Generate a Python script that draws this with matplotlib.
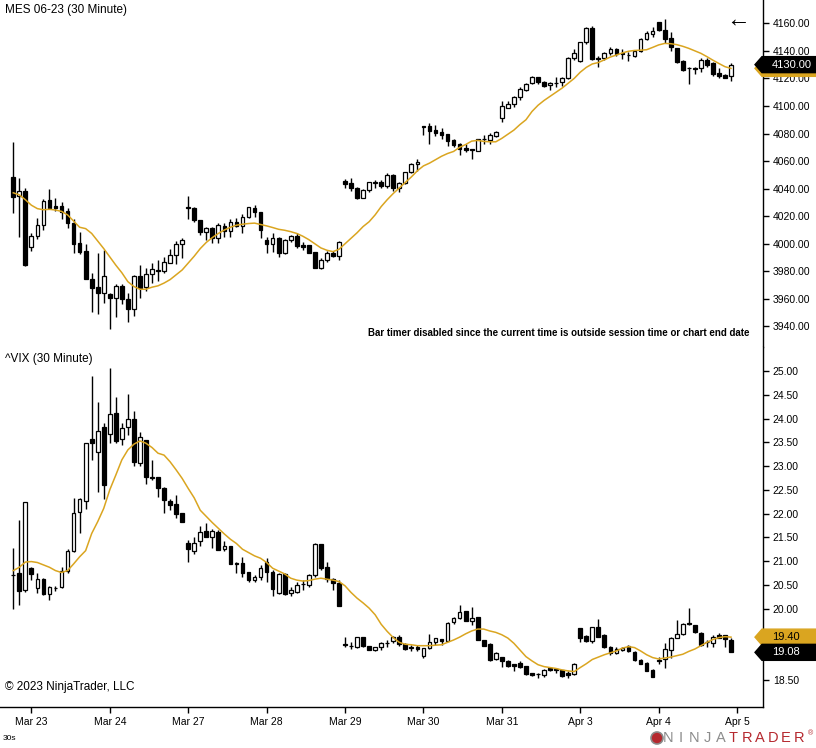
"""MES 06-23 and ^VIX 30 minute candles, drawn in the NinjaTrader look."""
from __future__ import annotations

import numpy as np
import matplotlib

matplotlib.use("Agg")
import matplotlib.pyplot as plt
from matplotlib.patches import Ellipse, Polygon

plt.rcParams["font.family"] = ["Liberation Sans", "DejaVu Sans"]

GOLD = "#DAA520"
FIG_W, FIG_H = 816, 748
PLOT_RIGHT = 763  # pixel column of the price axis line
TAG_HALF_PX = 8.0

DAY_LABELS = ["Mar 23", "Mar 24", "Mar 27", "Mar 28", "Mar 29",
              "Mar 30", "Mar 31", "Apr 3", "Apr 4", "Apr 5"]
BARS_PER_DAY = 13
FIRST_DAY_BAR = 3

MES_OPEN = [
    4048.2, 4034.4, 4038.3, 3997.4, 4005.4, 4013.4, 4031.7, 4027.2, 4027.2, 4023.8,
    4015.1, 4000.3, 3994.7, 3974.2, 3968.4, 3964.0, 3963.8, 3960.4, 3969.3, 3959.7,
    3952.4, 3976.6, 3968.4, 3977.8, 3981.0, 3980.6, 3986.3, 3991.6, 4000.2, 4026.4,
    4025.7, 4017.3, 4008.8, 4011.2, 4004.4, 4013.2, 4009.5, 4015.8, 4013.2, 4019.2,
    4025.7, 4022.8, 4002.8, 3999.6, 4004.0, 3993.1, 4002.8, 4005.7, 3999.1, 3999.1,
    3993.8, 3982.7, 3988.2, 3993.6, 3991.4, 4045.6, 4043.9, 4040.5, 4033.5, 4039.0,
    4044.4, 4044.8, 4042.2, 4049.9, 4040.7, 4044.1, 4051.8, 4057.6, 4085.2, 4085.2,
    4082.6, 4081.1, 4079.4, 4075.3, 4072.2, 4069.5, 4068.5, 4067.6, 4075.8, 4075.3,
    4078.5, 4091.0, 4098.8, 4101.2, 4106.8, 4111.8, 4116.4, 4121.3, 4117.4, 4115.0,
    4116.9, 4117.2, 4120.0, 4134.6, 4132.6, 4146.2, 4156.3, 4134.6, 4134.6, 4138.2,
    4141.1, 4138.2, 4137.0, 4136.5, 4140.1, 4148.4, 4152.2, 4160.7, 4155.1, 4149.1,
    4141.8, 4132.9, 4127.3, 4127.3, 4127.3, 4133.4, 4130.9, 4123.7, 4122.5, 4121.7,
]
MES_HIGH = [
    4073.8, 4047.5, 4040.2, 4007.6, 4018.4, 4032.7, 4039.7, 4033.0, 4030.3, 4026.2,
    4018.2, 4008.5, 3999.8, 3979.0, 3993.5, 3995.5, 3964.5, 3970.5, 3970.5, 3964.0,
    3977.3, 3984.6, 3982.4, 3985.8, 3988.2, 3990.6, 3996.0, 4002.2, 4003.9, 4034.6,
    4026.4, 4017.5, 4012.4, 4012.4, 4014.9, 4014.9, 4017.8, 4018.5, 4021.6, 4026.9,
    4028.2, 4023.3, 4005.2, 4007.6, 4004.7, 4003.2, 4006.4, 4007.6, 4001.6, 3999.1,
    3994.3, 3989.4, 3994.8, 3994.8, 4002.0, 4047.3, 4047.5, 4041.2, 4039.5, 4045.1,
    4046.3, 4046.3, 4051.1, 4050.4, 4045.1, 4052.3, 4058.4, 4061.5, 4085.4, 4087.9,
    4086.0, 4083.8, 4079.7, 4075.8, 4072.9, 4072.2, 4068.8, 4076.0, 4079.0, 4080.4,
    4081.8, 4103.6, 4103.6, 4107.2, 4114.0, 4116.4, 4121.8, 4121.3, 4118.1, 4117.4,
    4121.3, 4121.3, 4135.3, 4141.1, 4146.7, 4157.6, 4158.0, 4136.3, 4139.2, 4142.8,
    4141.8, 4141.1, 4139.4, 4140.6, 4149.1, 4154.7, 4157.6, 4161.2, 4163.1, 4153.9,
    4142.3, 4133.4, 4128.5, 4128.5, 4134.6, 4134.6, 4132.2, 4127.3, 4123.2, 4130.9,
]
MES_LOW = [
    4022.6, 4004.6, 3984.1, 3995.0, 4003.7, 4010.2, 4025.0, 4024.0, 4018.2, 4011.7,
    3993.5, 3992.6, 3974.2, 3950.7, 3948.8, 3957.2, 3937.9, 3946.6, 3956.0, 3943.5,
    3947.8, 3960.9, 3966.0, 3971.8, 3973.2, 3979.0, 3985.8, 3985.3, 3989.4, 4018.0,
    4016.0, 4006.4, 4002.8, 4000.3, 4000.8, 4004.7, 4005.2, 4012.4, 4007.6, 4018.5,
    4019.2, 4004.0, 3993.6, 3994.3, 3990.2, 3992.6, 4001.6, 3996.7, 3995.5, 3993.1,
    3982.2, 3981.5, 3987.0, 3990.7, 3988.2, 4040.2, 4038.3, 4032.3, 4033.0, 4037.8,
    4040.2, 4040.2, 4040.2, 4038.3, 4037.8, 4043.4, 4051.1, 4053.1, 4078.9, 4072.2,
    4078.2, 4076.3, 4071.0, 4070.0, 4064.7, 4066.8, 4061.8, 4067.3, 4072.4, 4072.4,
    4077.2, 4088.6, 4098.3, 4099.5, 4104.6, 4110.9, 4116.0, 4115.7, 4114.0, 4111.6,
    4114.0, 4114.5, 4119.6, 4133.4, 4132.2, 4145.2, 4133.4, 4128.0, 4133.4, 4137.0,
    4136.3, 4133.9, 4132.9, 4135.8, 4139.4, 4147.9, 4149.8, 4154.7, 4145.5, 4140.1,
    4131.0, 4125.6, 4116.0, 4123.2, 4124.9, 4128.5, 4122.0, 4120.5, 4120.0, 4118.1,
]
MES_CLOSE = [
    4034.2, 4038.3, 3984.8, 4005.4, 4013.4, 4031.0, 4026.0, 4026.2, 4023.3, 4014.8,
    3999.6, 3994.2, 3974.2, 3968.1, 3964.0, 3976.4, 3960.4, 3969.1, 3959.7, 3952.4,
    3976.6, 3968.1, 3977.8, 3981.5, 3980.6, 3986.8, 3991.8, 3999.6, 4002.7, 4025.7,
    4017.3, 4008.8, 4011.2, 4004.4, 4013.6, 4009.5, 4015.8, 4013.2, 4019.2, 4026.4,
    4022.8, 4010.0, 3999.9, 4004.0, 3993.1, 4002.8, 4005.7, 3998.6, 3997.9, 3993.6,
    3982.7, 3988.2, 3993.6, 3991.1, 4001.6, 4043.6, 4040.2, 4033.5, 4039.0, 4044.6,
    4044.6, 4042.2, 4049.9, 4040.7, 4044.1, 4051.8, 4057.6, 4059.3, 4085.0, 4082.1,
    4080.6, 4079.2, 4074.8, 4071.9, 4068.5, 4068.3, 4068.1, 4075.8, 4075.9, 4078.7,
    4081.1, 4099.7, 4101.2, 4106.5, 4112.1, 4115.7, 4121.3, 4117.2, 4114.7, 4116.7,
    4117.0, 4120.1, 4134.6, 4138.7, 4146.2, 4156.3, 4134.1, 4134.4, 4138.7, 4141.1,
    4137.5, 4137.5, 4137.1, 4140.1, 4148.4, 4153.2, 4154.2, 4155.1, 4148.9, 4143.0,
    4132.2, 4126.1, 4127.4, 4127.0, 4133.4, 4129.7, 4123.0, 4121.7, 4120.5, 4130.0,
]
MES_MA = [
    4037.0, 4035.5, 4032.0, 4028.0, 4025.5, 4024.7, 4025.0, 4024.5, 4023.5, 4021.0,
    4016.5, 4012.0, 4011.0, 4007.5, 4002.0, 3996.5, 3990.5, 3984.5, 3979.0, 3972.5,
    3969.0, 3967.0, 3967.0, 3968.5, 3969.5, 3971.5, 3974.0, 3977.5, 3981.0, 3986.0,
    3991.0, 3996.5, 4001.0, 4004.5, 4007.5, 4010.0, 4012.0, 4013.5, 4014.2, 4014.7,
    4015.0, 4014.0, 4013.0, 4011.8, 4010.5, 4009.8, 4008.8, 4007.5, 4005.5, 4003.0,
    4000.0, 3997.0, 3995.3, 3994.3, 3996.0, 4000.0, 4004.0, 4008.0, 4012.5, 4016.0,
    4021.0, 4027.0, 4032.0, 4036.5, 4040.5, 4044.5, 4048.5, 4053.0, 4056.5, 4058.5,
    4061.0, 4063.5, 4065.5, 4067.0, 4070.0, 4072.0, 4074.5, 4075.0, 4074.3, 4074.0,
    4074.0, 4076.5, 4079.5, 4082.5, 4086.5, 4090.0, 4096.0, 4100.5, 4104.0, 4107.0,
    4110.0, 4113.0, 4116.5, 4120.0, 4124.5, 4128.0, 4130.5, 4131.5, 4133.5, 4135.5,
    4137.0, 4138.5, 4139.7, 4140.3, 4140.5, 4140.8, 4142.5, 4144.3, 4145.4, 4145.2,
    4144.5, 4143.3, 4141.8, 4140.0, 4138.2, 4135.8, 4133.2, 4130.8, 4128.5, 4127.3,
]

VIX_OPEN = [
    20.71, 20.76, 20.39, 20.85, 20.43, 20.62, 20.30, 20.44, 20.45, 20.80,
    21.22, 22.03, 22.27, 23.56, 23.30, 23.82, 23.67, 24.11, 23.56, 23.82,
    24.00, 23.06, 23.55, 22.78, 22.76, 22.53, 22.27, 22.20, 22.01, 21.39,
    21.22, 21.43, 21.63, 21.50, 21.61, 21.25, 21.32, 20.97, 20.97, 20.77,
    20.60, 20.66, 20.98, 20.77, 20.32, 20.73, 20.32, 20.36, 20.51, 20.50,
    20.70, 21.36, 20.87, 20.63, 20.53, 19.25, 19.22, 19.20, 19.40, 19.22,
    19.13, 19.19, 19.27, 19.31, 19.40, 19.25, 19.20, 19.20, 19.01, 19.17,
    19.29, 19.36, 19.32, 19.71, 19.80, 19.94, 19.75, 19.82, 19.34, 19.26,
    18.94, 18.98, 18.90, 18.84, 18.85, 18.80, 18.64, 18.62, 18.61, 18.75,
    18.73, 18.71, 18.64, 18.63, 19.59, 19.43, 19.32, 19.62, 19.45, 19.20,
    19.06, 19.13, 19.22, 19.08, 18.92, 18.85, 18.71, 18.91, 18.94, 19.13,
    19.39, 19.46, 19.69, 19.66, 19.48, 19.29, 19.27, 19.45, 19.45, 19.33,
]
VIX_HIGH = [
    21.27, 21.87, 22.24, 20.88, 20.74, 20.64, 20.48, 20.48, 20.88, 21.25,
    22.32, 22.32, 23.49, 24.89, 24.35, 23.90, 25.06, 24.46, 23.90, 24.52,
    24.16, 23.72, 23.55, 23.13, 22.78, 22.55, 22.30, 22.39, 22.01, 21.44,
    21.50, 21.73, 21.80, 21.67, 21.66, 21.42, 21.32, 20.99, 21.09, 20.78,
    20.70, 20.92, 21.06, 20.81, 20.74, 20.74, 20.45, 20.57, 20.60, 20.73,
    21.39, 21.36, 20.99, 20.64, 20.60, 19.40, 19.29, 19.41, 19.40, 19.22,
    19.20, 19.29, 19.33, 19.43, 19.45, 19.27, 19.24, 19.24, 19.18, 19.46,
    19.39, 19.36, 19.71, 19.83, 20.08, 19.95, 20.03, 19.83, 19.34, 19.27,
    19.08, 18.99, 18.91, 18.84, 18.89, 18.80, 18.64, 18.64, 18.73, 18.75,
    18.76, 18.71, 18.68, 18.85, 19.59, 19.45, 19.62, 19.78, 19.46, 19.22,
    19.20, 19.20, 19.24, 19.10, 18.94, 18.87, 18.72, 18.99, 19.27, 19.41,
    19.76, 19.69, 20.02, 19.66, 19.50, 19.34, 19.45, 19.48, 19.45, 19.38,
]
VIX_LOW = [
    19.99, 20.08, 20.36, 20.60, 20.32, 20.29, 20.18, 20.37, 20.43, 20.74,
    21.20, 21.60, 22.09, 23.13, 22.46, 22.30, 23.49, 23.48, 23.44, 23.65,
    23.01, 23.00, 22.62, 22.71, 22.34, 22.01, 22.08, 21.90, 21.82, 20.99,
    21.15, 21.31, 21.50, 21.27, 21.24, 21.22, 20.93, 20.74, 20.66, 20.57,
    20.57, 20.60, 20.57, 20.27, 20.31, 20.29, 20.27, 20.32, 20.39, 20.45,
    20.67, 20.81, 20.57, 20.39, 20.06, 19.20, 19.15, 19.18, 19.20, 19.12,
    19.10, 19.13, 19.19, 19.27, 19.22, 19.13, 19.11, 19.11, 18.97, 19.15,
    19.24, 19.24, 19.31, 19.68, 19.78, 19.73, 19.66, 19.33, 19.22, 18.90,
    18.91, 18.78, 18.78, 18.68, 18.75, 18.61, 18.59, 18.54, 18.57, 18.69,
    18.64, 18.57, 18.54, 18.61, 19.29, 19.29, 19.27, 19.40, 19.17, 19.03,
    19.04, 19.11, 19.08, 18.90, 18.83, 18.68, 18.57, 18.84, 18.75, 18.96,
    19.39, 19.45, 19.66, 19.48, 19.22, 19.20, 19.19, 19.38, 19.20, 19.08,
]
VIX_CLOSE = [
    20.70, 20.38, 22.24, 20.72, 20.62, 20.30, 20.46, 20.44, 20.80, 21.22,
    22.01, 22.30, 23.48, 23.48, 23.74, 22.60, 24.09, 23.53, 23.81, 23.98,
    23.08, 23.62, 22.76, 22.74, 22.53, 22.29, 22.17, 21.99, 21.82, 21.25,
    21.39, 21.61, 21.50, 21.63, 21.24, 21.32, 20.93, 20.94, 20.74, 20.60,
    20.66, 20.85, 20.77, 20.41, 20.73, 20.30, 20.39, 20.50, 20.51, 20.71,
    21.36, 20.86, 20.62, 20.53, 20.06, 19.24, 19.21, 19.40, 19.22, 19.13,
    19.19, 19.27, 19.28, 19.41, 19.26, 19.15, 19.18, 19.15, 19.17, 19.29,
    19.38, 19.32, 19.69, 19.80, 19.92, 19.75, 19.81, 19.34, 19.22, 18.92,
    19.06, 18.89, 18.80, 18.80, 18.78, 18.63, 18.61, 18.62, 18.71, 18.70,
    18.71, 18.59, 18.61, 18.83, 19.39, 19.32, 19.61, 19.41, 19.19, 19.06,
    19.15, 19.18, 19.10, 18.91, 18.84, 18.69, 18.57, 18.90, 19.15, 19.39,
    19.46, 19.67, 19.67, 19.50, 19.24, 19.29, 19.41, 19.39, 19.36, 19.08,
]
VIX_MA = [
    20.80, 20.87, 20.98, 20.99, 20.97, 20.92, 20.87, 20.80, 20.76, 20.80,
    20.94, 21.09, 21.22, 21.58, 21.83, 22.11, 22.50, 22.81, 23.13, 23.34,
    23.46, 23.53, 23.48, 23.39, 23.27, 23.23, 23.09, 22.92, 22.74, 22.53,
    22.33, 22.07, 21.94, 21.81, 21.69, 21.57, 21.46, 21.37, 21.25, 21.18,
    21.11, 21.06, 20.97, 20.85, 20.79, 20.73, 20.64, 20.60, 20.58, 20.59,
    20.62, 20.64, 20.62, 20.60, 20.57, 20.48, 20.34, 20.22, 20.12, 20.01,
    19.87, 19.67, 19.52, 19.39, 19.29, 19.25, 19.24, 19.22, 19.22, 19.22,
    19.23, 19.24, 19.29, 19.34, 19.40, 19.47, 19.53, 19.57, 19.57, 19.53,
    19.50, 19.45, 19.38, 19.27, 19.13, 18.99, 18.90, 18.82, 18.78, 18.76,
    18.74, 18.71, 18.69, 18.675, 18.76, 18.84, 18.93, 18.98, 19.03, 19.07,
    19.11, 19.17, 19.20, 19.18, 19.11, 19.03, 18.97, 18.94, 18.96, 18.98,
    19.01, 19.04, 19.10, 19.15, 19.22, 19.29, 19.35, 19.39, 19.41, 19.40,
]


def px(x: float, y: float) -> tuple[float, float]:
    """Pixel position (from top-left) to figure fraction."""
    return x / FIG_W, 1.0 - y / FIG_H


def units_per_px(ax) -> float:
    y0, y1 = ax.get_ylim()
    return (y1 - y0) / (ax.get_position().height * FIG_H)


def draw_candles(ax, opens, highs, lows, closes) -> None:
    o, h, l, c = (np.asarray(v, dtype=float) for v in (opens, highs, lows, closes))
    x = np.arange(len(o))
    ax.vlines(x, l, h, color="black", linewidth=1.0, zorder=2)
    colors = np.where(c >= o, "white", "black")
    ax.bar(x, np.abs(c - o), width=0.62, bottom=np.minimum(o, c),
           color=colors, edgecolor="black", linewidth=0.9, zorder=3)


def price_tag(ax, value: float, text: str | None, face: str, text_color: str = "black") -> None:
    half = TAG_HALF_PX * units_per_px(ax)
    x_tip, x_sh, x_end = 755 / PLOT_RIGHT, 762 / PLOT_RIGHT, FIG_W / PLOT_RIGHT
    pts = [(x_tip, value), (x_sh, value + half), (x_end, value + half),
           (x_end, value - half), (x_sh, value - half)]
    trans = ax.get_yaxis_transform()
    ax.add_patch(Polygon(pts, closed=True, transform=trans, facecolor=face,
                         edgecolor=face, clip_on=False, zorder=10))
    if text:
        ax.text(772 / PLOT_RIGHT, value, text, transform=trans, color=text_color,
                ha="left", va="center", fontsize=8, clip_on=False, zorder=11)


def style_axis(ax, ticks, tag_values) -> None:
    for side in ("left", "top", "bottom"):
        ax.spines[side].set_visible(False)
    ax.spines["right"].set_linewidth(1.0)
    ax.yaxis.tick_right()
    # labels that sit under a price tag are hidden, as on the platform
    reach = (TAG_HALF_PX + 4) * units_per_px(ax)
    labels = [
        "" if any(abs(t - v) < reach for v in tag_values) else f"{t:.2f}"
        for t in ticks
    ]
    ax.set_yticks(ticks)
    ax.set_yticklabels(labels)
    ax.tick_params(axis="y", direction="out", length=4, width=1, labelsize=7.5, pad=3)


fig = plt.figure(figsize=(FIG_W / 100, FIG_H / 100), dpi=100)
ax_w = PLOT_RIGHT / FIG_W
top = fig.add_axes([0.0, 1 - 347 / FIG_H, ax_w, 347 / FIG_H])
bot = fig.add_axes([0.0, 1 - 707 / FIG_H, ax_w, (707 - 347) / FIG_H])

n_bars = len(MES_CLOSE)
xs = np.arange(n_bars)
for ax in (top, bot):
    ax.set_xlim(-2.2, 124.3)

# price panel
draw_candles(top, MES_OPEN, MES_HIGH, MES_LOW, MES_CLOSE)
top.plot(xs, MES_MA, color=GOLD, linewidth=1.1, zorder=4)
top.set_ylim(3925.1, 4176.9)
style_axis(top, np.arange(3940, 4161, 20), [MES_CLOSE[-1]])
top.set_xticks([])

# vix panel
draw_candles(bot, VIX_OPEN, VIX_HIGH, VIX_LOW, VIX_CLOSE)
bot.plot(xs, VIX_MA, color=GOLD, linewidth=1.1, zorder=4)
bot.set_ylim(17.93, 25.505)
style_axis(bot, np.arange(18.5, 25.01, 0.5), [VIX_MA[-1], VIX_CLOSE[-1]])
bot.spines["bottom"].set_visible(True)
bot.spines["bottom"].set_linewidth(1.0)
day_ticks = [FIRST_DAY_BAR + BARS_PER_DAY * k for k in range(len(DAY_LABELS))]
bot.set_xticks(day_ticks)
bot.set_xticklabels(DAY_LABELS)
bot.tick_params(axis="x", direction="out", length=4, width=1, labelsize=7.5, pad=3)

# gold moving-average tag sits behind the black last-price tag in the upper panel
price_tag(top, MES_MA[-1], None, GOLD)
price_tag(top, MES_CLOSE[-1], f"{MES_CLOSE[-1]:.2f}", "black", "white")
price_tag(bot, VIX_MA[-1], f"{VIX_MA[-1]:.2f}", GOLD, "black")
price_tag(bot, VIX_CLOSE[-1], f"{VIX_CLOSE[-1]:.2f}", "black", "white")

fig.text(*px(5, 10), "MES 06-23 (30 Minute)", fontsize=8.5, va="center")
fig.text(*px(5, 359), "^VIX (30 Minute)", fontsize=8.5, va="center")
fig.text(*px(5, 687), "\u00a9 2023 NinjaTrader, LLC", fontsize=8.5, va="center")
fig.text(*px(749, 332.5), "Bar timer disabled since the current time is outside session time or chart end date",
         fontsize=7, fontweight="bold", ha="right", va="center")
fig.text(*px(738, 20), "\u2190", fontsize=17, ha="center", va="center")
fig.text(*px(3, 738), "30s", fontsize=6, va="center")

# NinjaTrader logo
fig.add_artist(Ellipse(px(657, 738), 12 / FIG_W, 12 / FIG_H, facecolor="#b5282e",
                       edgecolor="#8a8a8a", linewidth=1.2))
for k, ch in enumerate("NINJATRADER"):
    fig.text(*px(668 + k * 13.1, 738.5), ch, fontsize=10.5, ha="center", va="center",
             color="#8c8c8c" if k < 5 else "#b5282e")
fig.text(*px(810, 734), "\u00ae", fontsize=5, ha="center", va="center", color="#b5282e")

fig.savefig("out.png", dpi=100)
